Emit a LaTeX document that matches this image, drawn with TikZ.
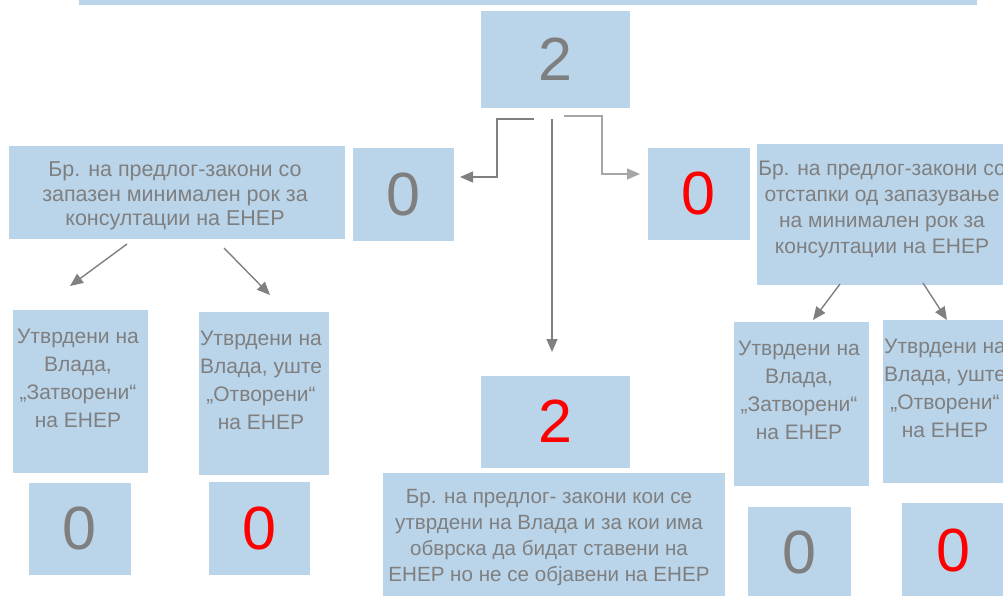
\documentclass[tikz,border=0pt]{standalone}
\usepackage{fontspec}
\setmainfont{Liberation Sans}
\usetikzlibrary{arrows.meta}
\definecolor{boxblue}{RGB}{186,212,234}
\definecolor{txtgray}{RGB}{127,127,127}
\definecolor{arrgray}{RGB}{128,128,128}
\definecolor{arrlight}{RGB}{166,166,166}
\definecolor{numred}{RGB}{255,0,0}
\tikzset{
  box/.style={fill=boxblue, draw=white, line width=0.6pt, inner sep=0pt},
  num/.style={font=\fontsize{61}{61}\selectfont, text=txtgray},
  rednum/.style={font=\fontsize{61}{61}\selectfont, text=numred},
  bigtxt/.style={align=center, text=txtgray, inner sep=0pt, font=\fontsize{21.5}{24.5}\selectfont},
  rtxtstyle/.style={align=center, text=txtgray, inner sep=0pt, font=\fontsize{21}{26}\selectfont},
  midtxt/.style={align=center, text=txtgray, inner sep=0pt, font=\fontsize{20.6}{26}\selectfont},
  smalltxt/.style={align=center, text=txtgray, inner sep=0pt, font=\fontsize{21}{28}\selectfont},
  conn/.style={draw=arrgray, line width=1.4pt, -{Triangle[length=13pt,width=11pt]}},
  connlight/.style={draw=arrlight, line width=1.4pt, -{Triangle[length=13pt,width=11pt]}},
}
\begin{document}
\begin{tikzpicture}[x=1pt,y=-1pt]
\clip (0,0) rectangle (1003,595);
\fill[white] (0,0) rectangle (1003,595);
% top bar
\node[box, minimum width=899pt, minimum height=30pt] (topbar) at (527.5,-10) {};
% top number
\node[box, minimum width=150pt, minimum height=98pt, num] (top) at (555,59) {2};
% left branch
\node[box, minimum width=337pt, minimum height=94pt] (lbox) at (176.5,192) {};
\node[bigtxt] (ltxt) at (175,196) {Бр. на предлог-закони со\\запазен минимален рок за\\консултации на ЕНЕР};
\node[box, minimum width=102pt, minimum height=94pt, num] (lnum) at (403,194) {0};
% right branch
\node[box, minimum width=103pt, minimum height=93pt, rednum] (rnum) at (698.5,193.5) {0};
\node[box, minimum width=252pt, minimum height=142pt] (rbox) at (882,214) {};
\node[rtxtstyle] (rtxt) at (882,209) {Бр. на предлог-закони со\\отстапки од запазување\\на минимален рок за\\консултации на ЕНЕР};
% left small boxes
\node[box, minimum width=136pt, minimum height=164pt] (l1) at (80,391) {};
\node[smalltxt] (l1t) at (78,378) {Утврдени на\\Влада,\\„Затворени“\\на ЕНЕР};
\node[box, minimum width=131pt, minimum height=164pt] (l2) at (263.5,393) {};
\node[smalltxt] (l2t) at (261,380) {Утврдени на\\Влада, уште\\„Отворени“\\на ЕНЕР};
\node[box, minimum width=103pt, minimum height=93pt, num] (l1n) at (79.5,528.5) {0};
\node[box, minimum width=102pt, minimum height=94pt, rednum] (l2n) at (259,528) {0};
% right small boxes
\node[box, minimum width=136pt, minimum height=165pt] (r1) at (801,403.5) {};
\node[smalltxt] (r1t) at (799,390) {Утврдени на\\Влада,\\„Затворени“\\на ЕНЕР};
\node[box, minimum width=126pt, minimum height=164pt] (r2) at (945,401) {};
\node[smalltxt] (r2t) at (945,388) {Утврдени на\\Влада, уште\\„Отворени“\\на ЕНЕР};
\node[box, minimum width=104pt, minimum height=100pt] (r1n) at (799,556) {};
\node[num] (r1nt) at (799,552) {0};
\node[box, minimum width=104pt, minimum height=104pt] (r2n) at (953,554) {};
\node[rednum] (r2nt) at (953,550) {0};
% center
\node[box, minimum width=150pt, minimum height=93pt, rednum] (cnum) at (555,421.5) {2};
\node[box, minimum width=343pt, minimum height=140pt] (cbox) at (553.5,542) {};
\node[midtxt] (ctxt) at (549,538) {Бр. на предлог- закони кои се\\утврдени на Влада и за кои има\\обврска да бидат ставени на\\ЕНЕР но не се објавени на ЕНЕР};
% connector coordinates
\coordinate (sl) at (534,119);
\coordinate (el) at (460,177);
\coordinate (sc) at (552,119);
\coordinate (ec) at (552,352);
\coordinate (sr) at (564,116);
\coordinate (er) at (640,174);
\coordinate (la1) at (127,244);
\coordinate (la1e) at (70,286);
\coordinate (la2) at (224,248);
\coordinate (la2e) at (270,295);
\coordinate (ra1) at (840,284);
\coordinate (ra1e) at (813,320);
\coordinate (ra2) at (923,283);
\coordinate (ra2e) at (947,320);
% connectors
\draw[conn] (sl) -- (497,119) -- (497,177) -- (el);
\draw[connlight] (sr) -- (602,116) -- (602,174) -- (er);
\draw[conn] (sc) -- (ec);
\draw[conn] (la1) -- (la1e);
\draw[conn] (la2) -- (la2e);
\draw[conn] (ra1) -- (ra1e);
\draw[conn] (ra2) -- (ra2e);
\end{tikzpicture}
\end{document}
